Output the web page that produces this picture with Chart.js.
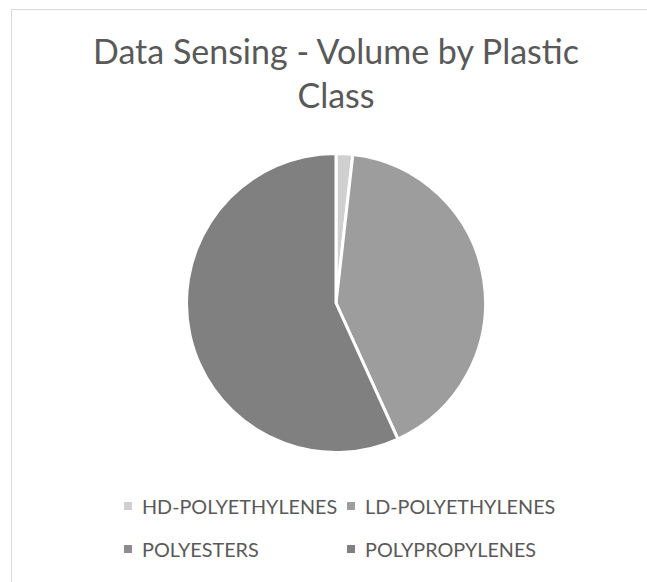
<!DOCTYPE html>
<html>
<head>
<meta charset="utf-8">
<script src="https://cdn.jsdelivr.net/npm/chart.js@4.4.1/dist/chart.umd.min.js"></script>
<style>
  html, body { margin: 0; padding: 0; background: #ffffff; }
  body { width: 647px; height: 582px; position: relative; overflow: hidden; font-family: "Lato", "Open Sans", sans-serif; }
  #frame { position: absolute; left: 11px; top: 9px; width: 700px; height: 640px; border: 1.5px solid #d9d9d9; box-sizing: border-box; }
  #title { position: absolute; left: 36px; width: 600px; top: 29px; text-align: center; color: #595959; font-size: 34px; line-height: 44px; }
  #pieBox { position: absolute; left: 185px; top: 152px; width: 302px; height: 302px; }
  .lg { position: absolute; display: flex; align-items: center; color: #595959; font-size: 19.8px; white-space: nowrap; }
  .lg i { display: inline-block; width: 8px; height: 8px; margin-right: 10px; }
</style>
</head>
<body>
<div id="frame"></div>
<div id="title">Data Sensing - Volume by Plastic<br>Class</div>
<div id="pieBox"><canvas id="pie" width="302" height="302"></canvas></div>
<div id="legend"></div>
<script>
// Plastic classes and their share of sensed volume
const categories = ["HD-POLYETHYLENES", "LD-POLYETHYLENES", "POLYESTERS", "POLYPROPYLENES"];
const volumes = [1.8, 41.4, 0, 56.8];
const sliceColors = ["#d0d0d0", "#9d9d9d", "#8c8c8c", "#808080"];

// Two-column legend under the pie
const legendCols = [124, 347];
const legendRows = [494, 537];
const legend = document.getElementById("legend");
categories.forEach((name, i) => {
  const item = document.createElement("div");
  item.className = "lg";
  item.style.left = legendCols[i % 2] + "px";
  item.style.top = legendRows[Math.floor(i / 2)] + "px";
  const sw = document.createElement("i");
  sw.style.background = sliceColors[i];
  item.appendChild(sw);
  item.appendChild(document.createTextNode(name));
  legend.appendChild(item);
});

new Chart(document.getElementById("pie"), {
  type: "pie",
  data: {
    labels: categories,
    datasets: [{
      data: volumes,
      backgroundColor: sliceColors,
      borderColor: "#ffffff",
      borderWidth: 3
    }]
  },
  options: {
    responsive: false,
    animation: false,
    layout: { padding: 0 },
    plugins: {
      legend: { display: false },
      title: { display: false },
      tooltip: { enabled: false }
    }
  }
});
</script>
</body>
</html>
